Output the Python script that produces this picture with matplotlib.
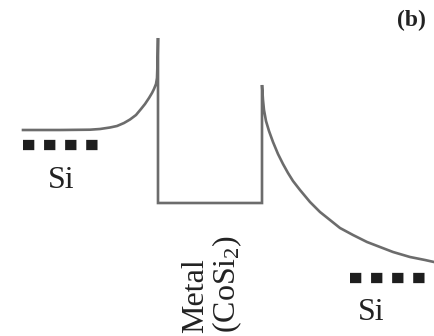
import matplotlib
matplotlib.use("Agg")
import matplotlib.pyplot as plt

# Band profile across a Si / CoSi2 / Si stack (schematic units, y grows downward)
left_x = [23, 60, 90, 100, 110, 117, 124, 130, 136, 141, 145, 149, 152, 154, 156, 157, 157.6, 158]
left_y = [130, 130, 129.7, 129, 127.5, 126, 123, 119.5, 115, 109, 104, 98, 93, 89, 84, 78, 60, 38]

well_x = [158, 158, 262, 262]
well_y = [38, 203, 203, 85]

right_x = [262, 263, 264, 266, 269, 273, 278, 283, 288, 293, 300, 310, 320, 330, 340,
           353, 367, 380, 393, 410, 425, 434]
right_y = [85, 100, 110, 121, 131, 142, 154, 164, 173, 181, 190, 202, 212, 220, 228,
           235, 242, 247, 252, 257, 260, 262]

# Fermi-level markers in the silicon on each side
si_left_x = [23, 98]
si_left_y = [145, 145]
si_right_x = [350, 427]
si_right_y = [278, 278]

profile_x = left_x + well_x + right_x
profile_y = left_y + well_y + right_y

serif = "Liberation Serif"
plt.rcParams["mathtext.fontset"] = "custom"
plt.rcParams["mathtext.rm"] = serif
plt.rcParams["mathtext.it"] = serif + ":italic"
plt.rcParams["mathtext.bf"] = serif + ":bold"

fig = plt.figure(figsize=(4.34, 3.36), dpi=100)
ax = fig.add_axes([0, 0, 1, 1])
ax.set_xlim(0, 434)
ax.set_ylim(336, 0)
ax.axis("off")

ax.plot(profile_x, profile_y, color="#6c6c6c", lw=1.9, solid_joinstyle="miter")

for xs, ys in ((si_left_x, si_left_y), (si_right_x, si_right_y)):
    ax.plot(xs, ys, color="#1e1e1e", lw=7.4, dashes=(1.1, 0.95),
            solid_capstyle="butt", dash_capstyle="butt")

ax.text(61, 188, "Si", fontsize=23, family=serif, ha="center", va="baseline", color="#222222")
ax.text(371.5, 320, "Si", fontsize=23, family=serif, ha="center", va="baseline", color="#222222")

ax.text(203, 333, "Metal", fontsize=23, family=serif, rotation=90,
        rotation_mode="anchor", ha="left", va="baseline", color="#222222")
ax.text(235, 333, r"(CoSi$\mathrm{_2}$)", fontsize=23, family=serif, rotation=90,
        rotation_mode="anchor", ha="left", va="baseline", color="#222222")

ax.text(411.5, 20, "(b)", fontsize=17, family=serif, fontweight="bold",
        ha="center", va="center", color="#222222")

fig.savefig("out.png", dpi=100)
